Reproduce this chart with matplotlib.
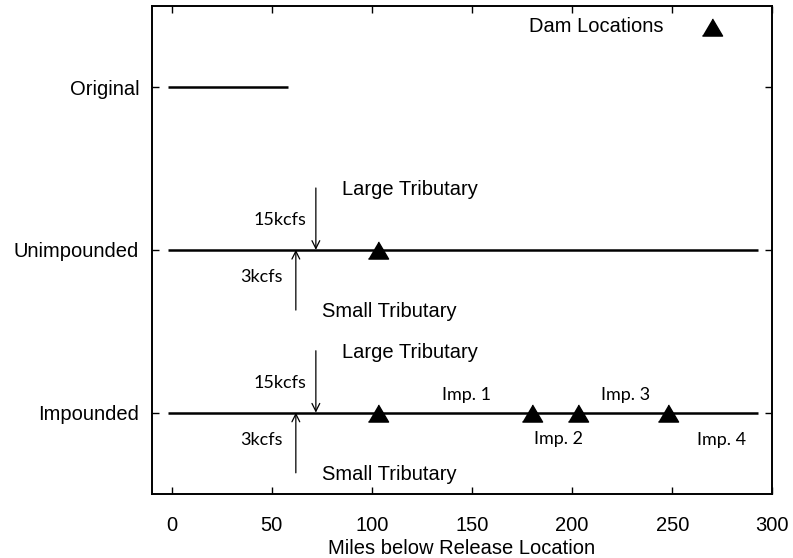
import matplotlib.pyplot as plt

plt.rcParams['font.family'] = ['Liberation Sans', 'DejaVu Sans']

# river reaches (row position on y, start/end mile)
reach_names = ['Impounded', 'Unimpounded', 'Original']
reach_rows = [1, 2, 3]
reach_start = [-2, -2, -2]
reach_end = [293, 293, 58]

# dam locations (miles) on each reach
unimp_dams = [103]
imp_dams = [103, 180, 203, 248]

# tributary inflows
large_trib_mile = 72
small_trib_mile = 62
large_trib_flow = '15kcfs'
small_trib_flow = '3kcfs'

# impoundment labels
imp_labels = ['Imp. 1', 'Imp. 2', 'Imp. 3', 'Imp. 4']
imp_label_x = [147, 193, 226.5, 274.5]
imp_label_dy = [0.11, -0.16, 0.11, -0.17]

helv = 14.5
cal = {'family': 'Lato', 'size': 13}

fig = plt.figure(figsize=(7.93, 5.58), dpi=100)
ax = fig.add_axes([0.1913, 0.1147, 0.9739 - 0.1913, 0.9898 - 0.1147])

for row, x0, x1 in zip(reach_rows, reach_start, reach_end):
    ax.plot([x0, x1], [row, row], color='black', lw=1.8, solid_capstyle='butt')

# slightly flattened triangle, like gnuplot's point type
flat_tri = [(-1, -0.85), (1, -0.85), (0, 0.85)]
tri = dict(marker=flat_tri, ms=14.5, color='black', ls='none')
ax.plot(unimp_dams, [2] * len(unimp_dams), **tri)
ax.plot(imp_dams, [1] * len(imp_dams), **tri)

# key
ax.plot([270], [3.37], **tri)
ax.text(245.6, 3.37, 'Dam Locations', ha='right', va='center', fontsize=helv)

arrow = dict(arrowstyle='->', color='black', lw=0.9, shrinkA=0, shrinkB=0,
             mutation_scale=14)
for row in [2, 1]:
    ax.annotate('', xy=(large_trib_mile, row), xytext=(large_trib_mile, row + 0.38),
                arrowprops=arrow)
    ax.annotate('', xy=(small_trib_mile, row), xytext=(small_trib_mile, row - 0.37),
                arrowprops=arrow)
    ax.text(119, row + 0.37, 'Large Tributary', ha='center', va='center', fontsize=helv)
    ax.text(108.8, row - 0.38, 'Small Tributary', ha='center', va='center', fontsize=helv)
    ax.text(54, row + 0.184, large_trib_flow, ha='center', va='center', **cal)
    ax.text(44.6, row - 0.168, small_trib_flow, ha='center', va='center', **cal)

for lab, x, dy in zip(imp_labels, imp_label_x, imp_label_dy):
    ax.text(x, 1 + dy, lab, ha='center', va='center', **cal)

ax.set_xlim(-10, 300)
ax.set_ylim(0.5, 3.5)
ax.set_xticks([0, 50, 100, 150, 200, 250, 300])
ax.set_yticks(reach_rows)
ax.set_yticklabels(reach_names)
ax.tick_params(direction='in', length=5, width=1, labelsize=helv,
               top=True, right=True)
ax.tick_params(axis='x', pad=16)
ax.tick_params(axis='y', pad=9)
for s in ax.spines.values():
    s.set_linewidth(1.4)
ax.set_xlabel('Miles below Release Location', fontsize=helv, labelpad=3)

fig.savefig('out.png', dpi=100)
